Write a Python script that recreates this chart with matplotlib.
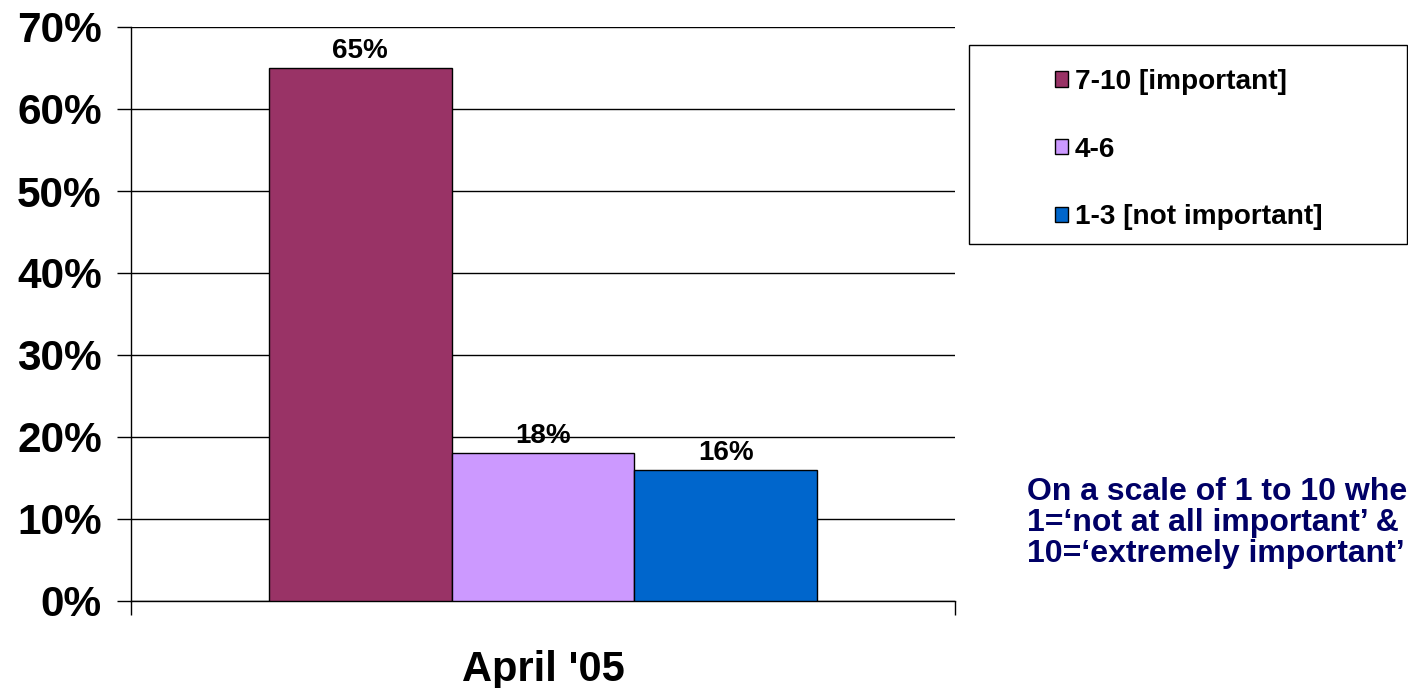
import matplotlib
matplotlib.use("Agg")
import matplotlib.pyplot as plt
from matplotlib.patches import Patch, Rectangle

# ---- data ----
category = "April '05"
series_names = ["7-10 [important]", "4-6", "1-3 [not important]"]
series_values = [65, 18, 16]
series_colors = ["#993366", "#CC99FF", "#0066CC"]
yticks = [0, 10, 20, 30, 40, 50, 60, 70]
ytick_labels = ["0%", "10%", "20%", "30%", "40%", "50%", "60%", "70%"]
note_text = "On a scale of 1 to 10 where\n1=\u2018not at all important\u2019 &\n10=\u2018extremely important\u2019"

plt.rcParams['font.family'] = ['Liberation Sans', 'DejaVu Sans']
plt.rcParams['font.weight'] = 'bold'

W, H = 1408, 688
fig = plt.figure(figsize=(W / 100, H / 100), dpi=100)
ax = fig.add_axes([131 / W, 1 - 601 / H, (955 - 131) / W, (601 - 27) / H])

bar_w = 0.222
center = 0.5
for i, (name, v, c) in enumerate(zip(series_names, series_values, series_colors)):
    x = center + (i - 1) * bar_w
    ax.bar(x, v, width=bar_w, color=c, edgecolor="black", linewidth=1, label=name, zorder=3)
    ax.annotate(f"{v}%", (x, v), xytext=(0, 3), textcoords="offset points",
                ha="center", va="bottom", fontsize=20, fontweight="bold")

ax.set_xlim(0, 1)
ax.set_ylim(0, 70)
ax.set_yticks(yticks)
ax.set_yticklabels(ytick_labels, fontsize=30.5, fontweight="bold")
ax.yaxis.grid(True, color="black", linewidth=1)
ax.set_axisbelow(True)

ax.set_xticks([0, 1])
ax.set_xticklabels(["", ""])
ax.set_xticks([center], minor=True)
ax.set_xticklabels([category], minor=True, fontsize=30, fontweight="bold")
ax.tick_params(axis="x", which="major", direction="out", length=10, width=1, color="black")
ax.tick_params(axis="x", which="minor", length=0, pad=35)
ax.tick_params(axis="y", direction="out", length=10, width=1, pad=11)

for s in ["top", "right"]:
    ax.spines[s].set_visible(False)
for s in ["left", "bottom"]:
    ax.spines[s].set_color("black")
    ax.spines[s].set_linewidth(1)

# legend box
fig.patches.append(Rectangle((969 / W, 1 - 244 / H), (1407 - 969) / W, (244 - 45) / H,
                             transform=fig.transFigure, facecolor="white",
                             edgecolor="black", linewidth=1))
handles = [Patch(facecolor=c, edgecolor="black", linewidth=1) for c in series_colors]
fig.legend(handles, series_names, loc="upper left", bbox_to_anchor=(1055 / W, 1 - 69 / H),
           frameon=False, prop={"weight": "bold", "size": 20.2},
           handlelength=0.45, handleheight=0.45, handletextpad=0.25,
           labelspacing=1.48, borderpad=0, borderaxespad=0)

fig.text(1027 / W, 1 - 477 / H, note_text, color="#000066", fontsize=23,
         fontweight="bold", ha="left", va="top", linespacing=1.04)

fig.savefig("out.png", dpi=100)
